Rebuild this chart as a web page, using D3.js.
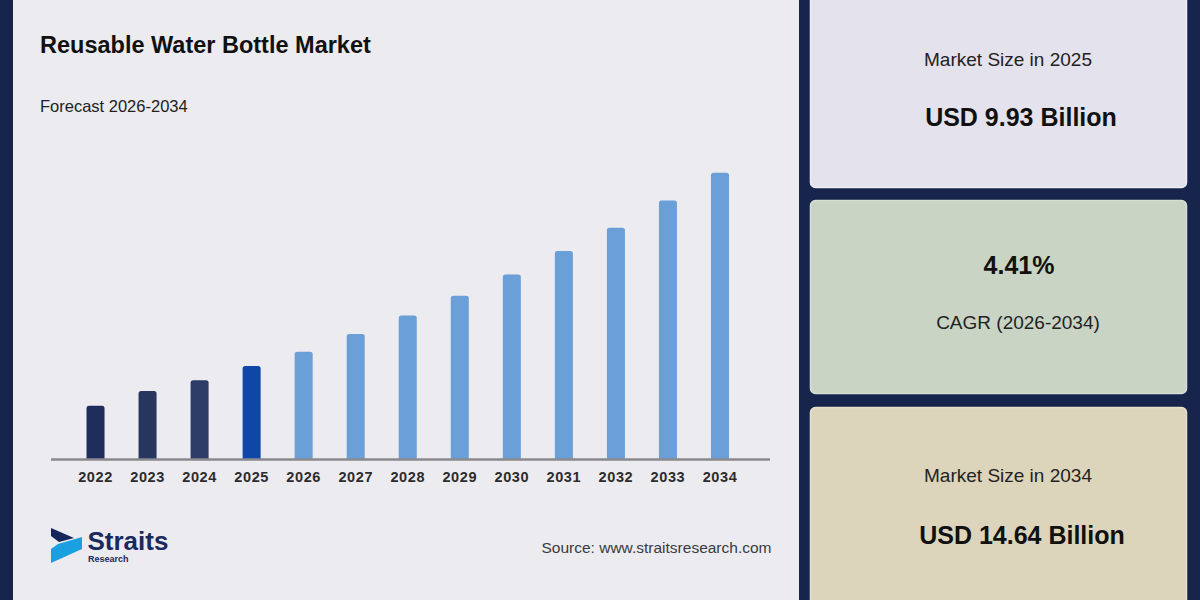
<!DOCTYPE html>
<html>
<head>
<meta charset="utf-8">
<script src="https://cdn.jsdelivr.net/npm/d3@7"></script>
<style>
  html, body { margin: 0; padding: 0; background: #17254d; }
  svg { display: block; font-family: "Liberation Sans", Arial, sans-serif; }
</style>
</head>
<body>
<div id="chart"></div>
<script>
// chart data (USD billion)
var years = ["2022", "2023", "2024", "2025", "2026", "2027", "2028",
             "2029", "2030", "2031", "2032", "2033", "2034"];
var values = [8.96, 9.32, 9.58, 9.93, 10.28, 10.71, 11.16,
              11.64, 12.16, 12.73, 13.30, 13.96, 14.64];
var barKind = ["hist", "hist", "hist", "base", "fc", "fc", "fc",
               "fc", "fc", "fc", "fc", "fc", "fc"];

// summary cards
var cardLabels = ["Market Size in 2025", "CAGR (2026-2034)", "Market Size in 2034"];
var cardValues = ["USD 9.93 Billion", "4.41%", "USD 14.64 Billion"];

var w = 1200,
    h = 600;

var svg = d3.select("#chart")
    .append("svg")
    .attr("width", w)
    .attr("height", h);

// background: navy frame + light panel
svg.append("rect")
    .attr("width", w).attr("height", h)
    .style("fill", "#17254d");

svg.append("rect")
    .attr("x", 13).attr("y", 0)
    .attr("width", 786).attr("height", h)
    .style("fill", "#ebebf0");

// title
svg.append("text")
    .attr("x", 40).attr("y", 52.5)
    .style("font-size", "23.5px")
    .style("font-weight", "bold")
    .style("fill", "#111")
    .text("Reusable Water Bottle Market");

svg.append("text")
    .attr("x", 40).attr("y", 111.5)
    .style("font-size", "16.5px")
    .style("fill", "#222")
    .text("Forecast 2026-2034");

// scales
var x = d3.scaleBand()
    .domain(years)
    .range([69.5, 746])
    .paddingInner(0.654)
    .paddingOuter(0.327);

var y = d3.scaleLinear()
    .domain([7.664, 14.64])
    .range([459, 172.7]);

var colors = {
    "hist": ["#1f2d5c", "#27365f", "#2e3c68"],
    "base": "#0e47a6",
    "fc": "#6a9fd7"
};

function barColor(d, i) {
    if (barKind[i] == "hist") return colors.hist[i];
    return colors[barKind[i]];
}

// bars (rounded top corners only)
svg.selectAll("path.bar")
    .data(values)
    .enter()
    .append("path")
    .attr("class", "bar")
    .attr("d", function(d, i) {
        var x0 = x(years[i]), bw = x.bandwidth(),
            top = y(d), bot = y(7.664), r = 2.5;
        return "M" + x0 + "," + bot +
               "V" + (top + r) +
               "Q" + x0 + "," + top + " " + (x0 + r) + "," + top +
               "H" + (x0 + bw - r) +
               "Q" + (x0 + bw) + "," + top + " " + (x0 + bw) + "," + (top + r) +
               "V" + bot + "Z";
    })
    .style("fill", barColor);

// x axis
var xAxis = d3.axisBottom(x).tickSize(0).tickPadding(0);
var axisG = svg.append("g")
    .attr("transform", "translate(0," + y(7.664) + ")")
    .call(xAxis);

axisG.select(".domain").remove();
axisG.append("line")
    .attr("x1", 51).attr("x2", 770)
    .attr("y1", 0.5).attr("y2", 0.5)
    .style("stroke", "#8a8a8e")
    .style("stroke-width", 2.5);

axisG.selectAll("text")
    .attr("dy", null)
    .attr("y", 23)
    .style("font-family", "'Liberation Sans', Arial, sans-serif")
    .style("font-size", "14.5px")
    .style("font-weight", "bold")
    .style("letter-spacing", "0.6px")
    .style("fill", "#2b2b2e");

// logo
var logo = svg.append("g");
logo.append("path")
    .attr("d", "M51,528 L74,538 L59,542 L51,536 Z")
    .style("fill", "#15275a");
logo.append("path")
    .attr("d", "M58,544 L82,537 L82,549 L51,563 L51,549 Z")
    .style("fill", "#1aa0e0");
logo.append("text")
    .attr("x", 87.5).attr("y", 549.5)
    .style("font-size", "26px")
    .style("font-weight", "bold")
    .style("fill", "#1a2a5c")
    .text("Straits");
logo.append("text")
    .attr("x", 88).attr("y", 562)
    .style("font-size", "9px")
    .style("font-weight", "bold")
    .style("fill", "#1a2a5c")
    .text("Research");

svg.append("text")
    .attr("x", 771.5).attr("y", 553.3)
    .attr("text-anchor", "end")
    .style("font-size", "15.5px")
    .style("fill", "#3a3a3e")
    .text("Source: www.straitsresearch.com");

// right-hand cards
var cards = [
    {y: -6, h: 193, fill: "#e4e2ec", stroke: "#eeedf4"},
    {y: 200, h: 193, fill: "#cad4c4", stroke: "#d6ded1"},
    {y: 407, h: 200, fill: "#ddd5bb", stroke: "#e6dfc9"}
];

svg.selectAll("rect.card")
    .data(cards)
    .enter()
    .append("rect")
    .attr("class", "card")
    .attr("x", 810.5)
    .attr("y", function(d) { return d.y + 0.5; })
    .attr("width", 376)
    .attr("height", function(d) { return d.h; })
    .attr("rx", 5)
    .style("fill", function(d) { return d.fill; })
    .style("stroke", function(d) { return d.stroke; })
    .style("stroke-width", 1.5);

// card texts
var labelPos = [{x: 1008, y: 65.7}, {x: 1018, y: 329}, {x: 1008, y: 481.7}];
var valuePos = [{x: 1021, y: 126}, {x: 1019, y: 274}, {x: 1022, y: 544}];

svg.selectAll("text.clabel")
    .data(cardLabels)
    .enter()
    .append("text")
    .attr("class", "clabel")
    .attr("x", function(d, i) { return labelPos[i].x; })
    .attr("y", function(d, i) { return labelPos[i].y; })
    .attr("text-anchor", "middle")
    .style("font-size", "19px")
    .style("fill", "#222")
    .text(function(d) { return d; });

svg.selectAll("text.cvalue")
    .data(cardValues)
    .enter()
    .append("text")
    .attr("class", "cvalue")
    .attr("x", function(d, i) { return valuePos[i].x; })
    .attr("y", function(d, i) { return valuePos[i].y; })
    .attr("text-anchor", "middle")
    .style("font-size", "25px")
    .style("font-weight", "bold")
    .style("fill", "#111")
    .text(function(d) { return d; });
</script>
</body>
</html>
